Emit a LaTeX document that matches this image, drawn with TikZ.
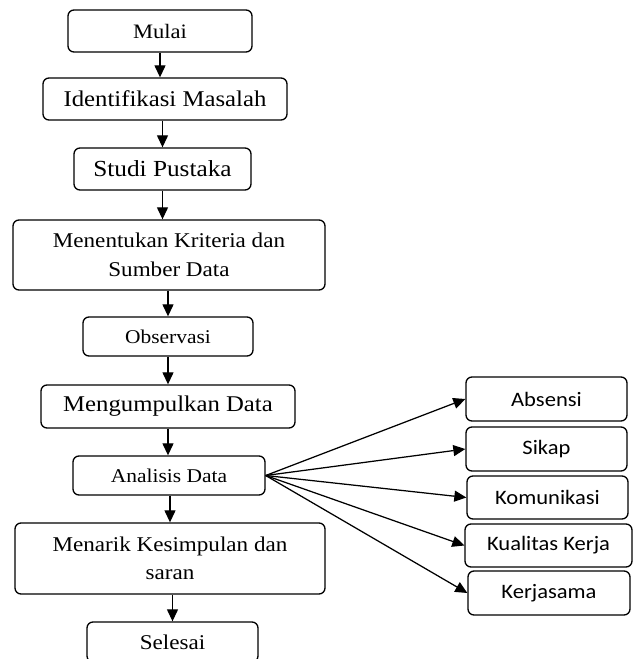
\documentclass[tikz,border=0pt]{standalone}
\usepackage{fontspec}
\usepackage{tikz}
\usetikzlibrary{arrows.meta}
\setmainfont{Liberation Serif}[FakeStretch=1.1]
\newfontfamily\calibrifont{Carlito}[FakeStretch=1.1]

\tikzset{
    box/.style={draw, rounded corners=6pt, line width=1.35pt, align=center, inner sep=0pt},
    leftbox/.style={box, minimum width=#1},
    rightbox/.style={box, minimum width=#1, minimum height=44pt,
        font=\calibrifont\fontsize{20.5}{24}\selectfont},
    arr/.style={line width=1.25pt, -{Triangle[length=12pt,width=11pt]}}
}

\begin{document}
\begin{tikzpicture}[x=1pt,y=-1pt]
    \useasboundingbox (0,0) rectangle (634,659);
    % alur utama
    \node[leftbox=184pt, minimum height=42pt, font=\fontsize{20.5}{24}\selectfont] (Mu) at (160,31) {Mulai};
    \node[leftbox=244pt, minimum height=42pt, font=\fontsize{22.5}{27}\selectfont] (Id) at (165,99) {Identifikasi Masalah};
    \node[leftbox=177pt, minimum height=42pt, font=\fontsize{23}{27}\selectfont] (St) at (162.5,169) {Studi Pustaka};
    \node[leftbox=312pt, minimum height=70pt, font=\fontsize{21}{29}\selectfont] (Kr) at (169,255) {Menentukan Kriteria dan\\Sumber Data};
    \node[leftbox=170pt, minimum height=39pt, font=\fontsize{19.5}{23}\selectfont] (Ob) at (168,336.5) {Observasi};
    \node[leftbox=254pt, minimum height=43pt, font=\fontsize{22.5}{27}\selectfont] (Pd) at (168,406.5) {Mengumpulkan Data};
    \node[leftbox=192pt, minimum height=39pt, font=\fontsize{19.5}{23}\selectfont] (An) at (169,475.5) {Analisis Data};
    \node[leftbox=310pt, minimum height=71pt, font=\fontsize{21}{28}\selectfont] (Ks) at (170,558.5) {Menarik Kesimpulan dan\\saran};
    \node[leftbox=171pt, minimum height=40pt, font=\fontsize{21}{24}\selectfont] (Se) at (172.5,642) {Selesai};
    % aspek penilaian
    \node[rightbox=161pt] (Ab) at (546.5,399) {Absensi};
    \node[rightbox=161pt] (Si) at (546.5,449) {Sikap};
    \node[rightbox=161pt, minimum height=43pt] (Ko) at (547.5,497.5) {Komunikasi};
    \node[rightbox=167pt, minimum height=43pt] (Kk) at (548.5,545.5) {Kualitas Kerja};
    \node[rightbox=162pt] (Kj) at (549,593) {Kerjasama};

    \draw[arr] (Mu.south) -- (Mu.south |- Id.north);
    \draw[arr] (St.north |- Id.south) -- (St.north);
    \draw[arr] (St.south) -- (St.south |- Kr.north);
    \draw[arr] (Ob.north |- Kr.south) -- (Ob.north);
    \draw[arr] (Ob.south) -- (Ob.south |- Pd.north);
    \draw[arr] (Pd.south) -- (Pd.south |- An.north);
    \draw[arr] (Ks.north |- An.south) -- (Ks.north);
    \draw[arr] (Se.north |- Ks.south) -- (Se.north);
    %\draw[arr] (An.east) -- (Ab.west);
    \draw[arr] (An.east) -- (Ab.west);
    \draw[arr] (An.east) -- (Si.west);
    \draw[arr] (An.east) -- (Ko.west);
    \draw[arr] (An.east) -- (Kk.west);
    \draw[arr] (An.east) -- (Kj.west);
\end{tikzpicture}
\end{document}
